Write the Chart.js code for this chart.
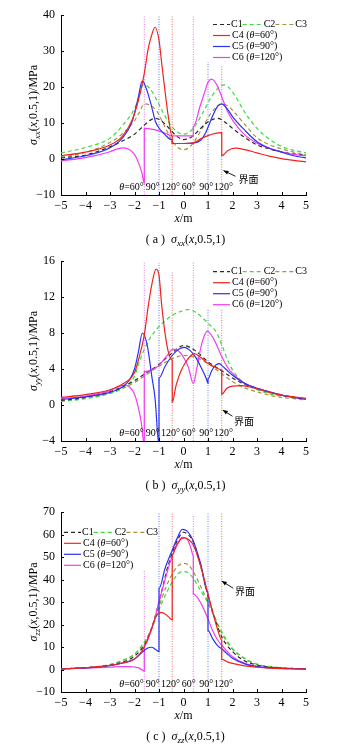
<!DOCTYPE html>
<html>
<head>
<meta charset="utf-8">
<script src="https://cdn.jsdelivr.net/npm/chart.js@4.4.0/dist/chart.umd.min.js"></script>
<style>
  html, body { margin: 0; padding: 0; background: #fff; width: 350px; height: 748px; overflow: hidden; }
  .box { position: absolute; left: 0; width: 350px; height: 250px; }
</style>
</head>
<body>
<div class="box" style="top:0"><canvas id="ca"></canvas></div>
<div class="box" style="top:246px"><canvas id="cb"></canvas></div>
<div class="box" style="top:497px"><canvas id="cc"></canvas></div>
<script>
// interface positions (m) and the theta labels under them
const interfaceX = [-1.6, -1.0, -0.46, 0.4, 1.0, 1.56];
const interfaceColor = ['#e848e8', '#4a58f2', '#e84848', '#e848e8', '#4a58f2', '#e84848'];
const thetaLabels = ['60°', '90°', '120°', '60°', '90°', '120°'];
const thetaLabelX = [-2.62, -1.54, -0.92, -0.07, 0.64, 1.24];
const seriesNames = ['C1', 'C2', 'C3', 'C4', 'C5', 'C6'];
const seriesTheta = ['', '', '', '60°', '90°', '120°'];
const xRange = [-5, 5, 1];

// (a) sigma_xx
const xxRange = [-10, 40, 10];
const xxIfTop = [40, 40, 39.6, 39.6, 27, 26];
const xxC1 = [[-5,0.3],[-4,1.1],[-3,3.4],[-2.5,5.0],[-2,6.9],[-1.6,9.4],[-1.35,10.8],[-1.15,11.3],[-0.9,10.6],[-0.6,8.6],[-0.3,6.5],[0,5.4],[0.3,6.0],[0.6,7.8],[0.9,9.8],[1.2,11.0],[1.4,11.3],[1.7,10.2],[2,8.5],[2.5,6.0],[3,3.9],[3.5,2.8],[4,2.0],[4.5,1.4],[5,1.0]];
const xxC2 = [[-5,1.7],[-4,3.2],[-3,5.8],[-2.5,9.2],[-2,14.0],[-1.8,17.5],[-1.65,20.6],[-1.4,19.8],[-1.1,16.5],[-0.8,12.5],[-0.5,9.2],[-0.25,7.5],[0,6.9],[0.25,7.5],[0.5,9.5],[0.8,13.0],[1.1,16.8],[1.4,19.6],[1.65,20.6],[1.9,19.5],[2.2,16.5],[2.5,13.0],[3,8.5],[3.5,5.5],[4,3.5],[4.5,2.4],[5,1.7]];
const xxC3 = [[-5,0.5],[-4,1.8],[-3,4.6],[-2.5,7.0],[-2,10.6],[-1.8,13.0],[-1.6,15.3],[-1.4,15.0],[-1.1,13.4],[-0.8,9.5],[-0.5,5.5],[-0.25,3.3],[0,2.6],[0.25,3.3],[0.5,5.5],[0.8,9.0],[1.1,12.5],[1.4,14.8],[1.6,15.3],[1.8,14.8],[2.1,12.8],[2.5,9.6],[3,5.9],[3.5,4.0],[4,2.8],[4.5,1.9],[5,1.2]];
const xxC4 = [[-5,0.9],[-4,1.9],[-3,3.9],[-2.5,6.3],[-2.1,10.8],[-1.85,16.0],[-1.6,23.8],[-1.45,30.3],[-1.3,34.4],[-1.16,36.6],[-1.0,33.0],[-0.89,26.6],[-0.76,19.2],[-0.62,11.8],[-0.46,6.2],[-0.46,4.3],[0,4.3],[0.4,4.5],[0.7,5.6],[1.0,6.5],[1.3,7.1],[1.56,7.3],[1.56,0.9],[1.8,2.3],[2.1,3.0],[2.5,2.6],[3,1.7],[3.5,0.8],[4,0.1],[4.5,-0.4],[5,-0.8]];
const xxC5 = [[-5,-0.2],[-4,0.9],[-3,3.1],[-2.5,5.8],[-2.1,10.3],[-1.85,17.0],[-1.68,21.7],[-1.5,19.2],[-1.3,14.5],[-1.15,10.5],[-1.0,8.6],[-0.75,6.7],[-0.46,5.3],[-0.46,4.3],[0,4.3],[0.4,4.4],[0.7,5.2],[0.9,7.2],[1.0,8.8],[1.18,11.8],[1.39,14.6],[1.56,15.3],[1.8,13.8],[2.0,11.8],[2.5,8.0],[3,4.8],[3.5,3.0],[4,1.9],[4.5,0.9],[5,0.3]];
const xxC6 = [[-5,-0.5],[-4,0.4],[-3,2.0],[-2.7,2.8],[-2.45,3.1],[-2.2,2.6],[-2.0,1.3],[-1.85,-0.8],[-1.7,-3.8],[-1.6,-6.7],[-1.6,8.5],[-1.3,8.3],[-1.0,7.8],[-0.7,7.0],[-0.46,6.4],[0,6.4],[0.4,6.4],[0.4,9.0],[0.67,14.5],[0.87,18.7],[1.0,21.3],[1.15,22.2],[1.36,20.6],[1.56,17.3],[1.77,13.6],[2.0,10.8],[2.5,6.7],[3,4.4],[3.5,3.0],[4,2.0],[4.5,1.3],[5,0.9]];

// (b) sigma_yy
const yyRange = [-4, 16, 4];
const yyIfTop = [16, 15.8, 14.8, 16, 10.7, 10.6];
const yyC1 = [[-5,0.5],[-4,0.85],[-3,1.5],[-2.5,2.0],[-2,2.7],[-1.5,3.6],[-1,4.5],[-0.5,5.7],[0,6.6],[0.5,6.0],[1,4.8],[1.56,3.8],[2,3.0],[2.5,2.3],[3,1.85],[3.5,1.45],[4,1.1],[4.5,0.85],[5,0.7]];
const yyC2 = [[-5,0.4],[-4,0.7],[-3,1.3],[-2.5,1.9],[-2,3.2],[-1.8,4.8],[-1.6,6.2],[-1.3,7.7],[-1,8.7],[-0.5,9.9],[0,10.5],[0.2,10.6],[0.5,10.3],[1,9.1],[1.36,8.0],[1.56,6.7],[1.77,5.2],[2,3.9],[2.5,2.4],[3,1.7],[3.5,1.25],[4,1.0],[4.5,0.8],[5,0.65]];
const yyC3 = [[-5,0.45],[-4,0.75],[-3,1.3],[-2.5,1.8],[-2,2.5],[-1.5,3.4],[-1,4.3],[-0.5,5.1],[0,5.5],[0.5,5.3],[1,4.6],[1.5,3.6],[2,2.6],[2.5,1.9],[3,1.45],[3.5,1.1],[4,0.85],[4.5,0.7],[5,0.55]];
const yyC4 = [[-5,0.85],[-4,1.15],[-3,1.7],[-2.5,2.3],[-2,3.6],[-1.84,5.0],[-1.6,7.8],[-1.45,10.8],[-1.3,13.3],[-1.12,15.1],[-1.0,14.4],[-0.89,11.1],[-0.76,8.1],[-0.62,5.9],[-0.46,5.0],[-0.46,0.3],[-0.3,2.2],[-0.1,3.8],[0.1,4.8],[0.3,5.5],[0.45,5.7],[0.7,5.3],[1.0,4.6],[1.3,4.2],[1.56,3.9],[1.56,1.2],[1.77,1.85],[2.0,2.1],[2.38,2.15],[2.7,2.0],[3,1.8],[3.5,1.4],[4,1.1],[4.5,0.9],[5,0.75]];
const yyC5 = [[-5,0.6],[-4,0.9],[-3,1.4],[-2.5,2.0],[-2.2,2.8],[-2,4.0],[-1.84,5.9],[-1.68,8.0],[-1.5,6.9],[-1.4,5.3],[-1.3,3.3],[-1.16,0.7],[-1.0,-4.5],[-1.0,3.0],[-0.75,4.3],[-0.46,5.5],[-0.2,6.2],[0.05,6.4],[0.25,6.1],[0.5,5.3],[0.75,4.0],[0.92,3.0],[1.0,2.4],[1.0,2.9],[1.15,3.8],[1.3,4.4],[1.45,4.6],[1.56,4.4],[1.8,3.8],[2,3.3],[2.5,2.4],[3,1.85],[3.5,1.45],[4,1.1],[4.5,0.85],[5,0.65]];
const yyC6 = [[-5,0.7],[-4,1.0],[-3,1.6],[-2.7,2.0],[-2.4,2.2],[-2.2,2.0],[-2.0,1.2],[-1.85,-0.2],[-1.72,-2.0],[-1.6,-4.5],[-1.6,3.7],[-1.3,3.9],[-1.0,4.4],[-0.7,5.4],[-0.42,6.2],[-0.2,6.0],[0,5.3],[0.2,4.2],[0.4,2.4],[0.54,4.0],[0.67,5.9],[0.81,7.4],[0.97,8.2],[1.22,7.4],[1.56,5.4],[1.8,4.2],[2,3.5],[2.5,2.4],[3,1.85],[3.5,1.45],[4,1.1],[4.5,0.85],[5,0.65]];

// (c) sigma_zz
const zzRange = [-10, 70, 10];
const zzIfTop = [44, 70, 69.5, 68.7, 69.5, 70];
const zzC1 = [[-5,0.3],[-4,0.7],[-3,1.8],[-2.5,3.2],[-2,5.9],[-1.6,10.9],[-1.3,18.3],[-1,30],[-0.62,46.4],[-0.21,58.3],[0,61],[0.2,59.8],[0.4,56.8],[0.7,46],[1,33],[1.3,22],[1.56,14.5],[2,8],[2.5,3.8],[3,2.0],[3.5,1.1],[4,0.7],[4.5,0.45],[5,0.3]];
const zzC2 = [[-5,0.3],[-4,0.8],[-3,2.2],[-2.5,4.0],[-2,6.8],[-1.6,12.2],[-1.3,18],[-1,26.5],[-0.7,34],[-0.4,40],[-0.2,42.8],[0,43.5],[0.2,43],[0.4,40.5],[0.7,35],[1,29.5],[1.3,22.5],[1.56,16.8],[2,9.4],[2.5,5.0],[3,2.4],[3.5,1.3],[4,0.75],[4.5,0.45],[5,0.3]];
const zzC3 = [[-5,0.3],[-4,0.8],[-3,2.2],[-2.5,4.0],[-2,6.8],[-1.6,12],[-1.3,18.5],[-1,28],[-0.7,37],[-0.4,43.5],[-0.2,46.2],[0,47.2],[0.2,46.5],[0.4,43.5],[0.7,37],[1,30],[1.3,22.5],[1.56,16.2],[2,9],[2.5,4.7],[3,2.3],[3.5,1.3],[4,0.75],[4.5,0.45],[5,0.3]];
const zzC4 = [[-5,0.3],[-4,0.8],[-3,1.8],[-2.5,2.9],[-2,4.6],[-1.6,10.0],[-1.3,18.3],[-1.1,24.0],[-0.89,25.4],[-0.62,23.5],[-0.46,22.0],[-0.46,51],[-0.3,55],[-0.1,58],[0.05,58.5],[0.2,57.8],[0.4,55.3],[0.7,46],[1,33.5],[1.36,19],[1.56,13.1],[1.56,4.5],[1.8,3.4],[2,2.7],[2.5,1.6],[3,1.0],[3.5,0.6],[4,0.4],[4.5,0.3],[5,0.2]];
const zzC5 = [[-5,0.3],[-4,0.7],[-3,1.7],[-2.5,2.8],[-2,4.7],[-1.7,7.5],[-1.5,9.3],[-1.3,9.9],[-1.15,9.0],[-1.0,7.9],[-1.0,36],[-0.75,45],[-0.46,53],[-0.25,58.5],[-0.05,62.3],[0.15,61.5],[0.4,57],[0.7,47],[1.0,34],[1.0,17.3],[1.2,13.5],[1.4,10.5],[1.56,9.2],[1.8,6.8],[2,5.0],[2.5,2.5],[3,1.3],[3.5,0.8],[4,0.5],[4.5,0.35],[5,0.3]];
const zzC6 = [[-5,0.3],[-4,0.6],[-3,1.0],[-2.5,1.3],[-2.2,1.3],[-2,1.1],[-1.8,0.6],[-1.6,-0.6],[-1.6,10.8],[-1.3,18],[-1,30],[-0.7,42],[-0.46,50.5],[-0.25,55.5],[-0.05,58.7],[0.15,58],[0.3,54],[0.4,50.5],[0.4,33.5],[0.6,31.5],[0.8,27.5],[1.0,22.5],[1.2,17],[1.4,13],[1.56,10.8],[1.8,7.8],[2,5.7],[2.5,2.8],[3,1.4],[3.5,0.8],[4,0.5],[4.5,0.35],[5,0.3]];

const SERIF = '"Liberation Serif", "Times New Roman", serif';
const CJK = '"Noto Sans CJK SC", sans-serif';

const seriesStyle = [
  { color: '#2a2a2a', dash: [4, 3] },
  { color: '#3bdc3b', dash: [4, 3] },
  { color: '#a69242', dash: [4, 3] },
  { color: '#f0241f', dash: [] },
  { color: '#2a32f4', dash: [] },
  { color: '#f23cf2', dash: [] }
];

const panels = [
  { id: 'ca', letter: 'a', sub: 'xx', range: xxRange, ifTop: xxIfTop, series: [xxC1, xxC2, xxC3, xxC4, xxC5, xxC6],
    legend: { x: 213, dy: 9.5 }, note: { tip: [1.63, -3.2], tail: [2.12, -4.8], text: [2.24, -5.6] } },
  { id: 'cb', letter: 'b', sub: 'yy', range: yyRange, ifTop: yyIfTop, series: [yyC1, yyC2, yyC3, yyC4, yyC5, yyC6],
    legend: { x: 213, dy: 10.7 }, note: { tip: [1.6, -0.56], tail: [2.0, -1.25], text: [2.06, -1.75] } },
  { id: 'cc', letter: 'c', sub: 'zz', range: zzRange, ifTop: zzIfTop, series: [zzC1, zzC2, zzC3, zzC4, zzC5, zzC6],
    legend: { x: 64, dy: 20.3 }, note: { tip: [1.56, 39.3], tail: [2.03, 36.1], text: [2.1, 35] } }
];

function fmt(v){ return v < 0 ? '\u2212' + Math.abs(v) : String(v); }

function fontFor(p, size){
  const s = p.sub ? Math.round(size * 0.72) : size;
  return (p.it ? 'italic ' : '') + s + 'px ' + (p.cjk ? CJK : SERIF);
}

function drawRich(ctx, parts, x, y, size, align){
  let w = 0;
  parts.forEach(p => { ctx.font = fontFor(p, size); w += ctx.measureText(p.t).width; });
  let cx = align === 'center' ? x - w / 2 : x;
  ctx.textAlign = 'left';
  ctx.textBaseline = 'middle';
  parts.forEach(p => {
    ctx.font = fontFor(p, size);
    ctx.fillText(p.t, cx, y + (p.sub ? size * 0.3 : 0));
    cx += ctx.measureText(p.t).width;
  });
  return w;
}

function sigma(sub, tail){
  return [{ t: 'σ', it: true }, { t: sub, it: true, sub: true }, { t: '(' }, { t: 'x', it: true }, { t: ',0.5,1)' + tail }];
}

function strokeLine(ctx, x1, y1, x2, y2, color, dash, width){
  ctx.save();
  ctx.strokeStyle = color;
  ctx.lineWidth = width || 1.2;
  ctx.setLineDash(dash || []);
  ctx.beginPath(); ctx.moveTo(x1, y1); ctx.lineTo(x2, y2); ctx.stroke();
  ctx.restore();
}

function decor(p){
  return {
    id: 'decor_' + p.letter,
    afterDraw(chart){
      const { ctx, chartArea: a, scales: { x, y } } = chart;
      ctx.save();
      // ticks point inwards
      x.ticks.forEach(t => {
        const px = Math.round(x.getPixelForValue(t.value)) + 0.5;
        strokeLine(ctx, px, a.bottom, px, a.bottom - 3, '#000', [], 1);
      });
      y.ticks.forEach(t => {
        const py = Math.round(y.getPixelForValue(t.value)) + 0.5;
        strokeLine(ctx, a.left, py, a.left + 3, py, '#000', [], 1);
      });
      ctx.fillStyle = '#000';
      // axis titles and caption
      ctx.save();
      ctx.translate(34, (a.top + a.bottom) / 2);
      ctx.rotate(-Math.PI / 2);
      drawRich(ctx, sigma(p.sub, '/MPa'), 0, 0, 12, 'center');
      ctx.restore();
      const cxm = (a.left + a.right) / 2;
      drawRich(ctx, [{ t: 'x', it: true }, { t: '/m' }], cxm, a.bottom + 24, 12, 'center');
      drawRich(ctx, [{ t: '( ' + p.letter + ' )  ' }].concat(sigma(p.sub, '')), cxm + 2, a.bottom + 45, 12, 'center');
      // theta labels
      thetaLabels.forEach((s, i) => {
        const parts = i === 0 ? [{ t: 'θ', it: true }, { t: '=' + s }] : [{ t: s }];
        drawRich(ctx, parts, x.getPixelForValue(thetaLabelX[i]), a.bottom - 8, 10, 'left');
      });
      // interface note with arrow
      const n = p.note;
      const tx = x.getPixelForValue(n.tip[0]), ty = y.getPixelForValue(n.tip[1]);
      const bx = x.getPixelForValue(n.tail[0]), by = y.getPixelForValue(n.tail[1]);
      strokeLine(ctx, bx, by, tx, ty, '#000', [], 0.9);
      const ang = Math.atan2(ty - by, tx - bx);
      ctx.beginPath();
      ctx.moveTo(tx, ty);
      ctx.lineTo(tx - 5 * Math.cos(ang) + 2 * Math.sin(ang), ty - 5 * Math.sin(ang) - 2 * Math.cos(ang));
      ctx.lineTo(tx - 5 * Math.cos(ang) - 2 * Math.sin(ang), ty - 5 * Math.sin(ang) + 2 * Math.cos(ang));
      ctx.closePath();
      ctx.fill();
      drawRich(ctx, [{ t: '界面', cjk: true }], x.getPixelForValue(n.text[0]), y.getPixelForValue(n.text[1]), 10, 'left');
      // legend
      const L = p.legend;
      let ly = a.top + L.dy, lx = L.x;
      const sampleW = [17, 20, 19];
      for (let i = 0; i < 3; i++){
        strokeLine(ctx, lx, ly, lx + sampleW[i], ly, seriesStyle[i].color, seriesStyle[i].dash);
        lx += sampleW[i] + 1;
        lx += drawRich(ctx, [{ t: seriesNames[i] }], lx, ly, 10, 'left');
      }
      for (let i = 3; i < 6; i++){
        ly += 11;
        strokeLine(ctx, L.x, ly, L.x + 17, ly, seriesStyle[i].color, seriesStyle[i].dash);
        drawRich(ctx, [{ t: seriesNames[i] + ' (' }, { t: 'θ', it: true }, { t: '=' + seriesTheta[i] + ')' }], L.x + 19, ly, 10, 'left');
      }
      ctx.restore();
    }
  };
}

function buildChart(p){
  const datasets = [];
  // solid curves on top, dashed under them, interfaces at the bottom
  [3, 4, 5, 0, 1, 2].forEach(i => {
    datasets.push({
      label: seriesNames[i],
      data: p.series[i].map(([x, y]) => ({ x, y })),
      borderColor: seriesStyle[i].color,
      borderWidth: 1.2,
      borderDash: seriesStyle[i].dash,
      pointRadius: 0,
      cubicInterpolationMode: 'monotone',
      fill: false
    });
  });
  interfaceX.forEach((x, i) => {
    datasets.push({
      label: 'if' + i,
      data: [{ x, y: p.range[0] }, { x, y: p.ifTop[i] }],
      borderColor: interfaceColor[i],
      borderWidth: 0.8,
      borderDash: [1, 1.5],
      pointRadius: 0,
      fill: false
    });
  });

  const tickFont = { family: SERIF, size: 12 };
  new Chart(document.getElementById(p.id), {
    type: 'line',
    data: { datasets },
    options: {
      responsive: true,
      maintainAspectRatio: false,
      animation: false,
      layout: { padding: { left: 0, right: 44, top: 15, bottom: 0 } },
      plugins: { legend: { display: false }, tooltip: { enabled: false } },
      scales: {
        x: {
          type: 'linear', min: xRange[0], max: xRange[1],
          afterFit: s => { s.height = 55; },
          grid: { display: false, drawTicks: false },
          border: { color: '#000', width: 1 },
          ticks: { stepSize: xRange[2], padding: 4, color: '#000', font: tickFont, callback: fmt, maxRotation: 0, autoSkip: false }
        },
        y: {
          type: 'linear', min: p.range[0], max: p.range[1],
          afterFit: s => { s.width = 61; },
          grid: { display: false, drawTicks: false },
          border: { color: '#000', width: 1 },
          ticks: { stepSize: p.range[2], padding: 6, color: '#000', font: tickFont, callback: fmt }
        }
      }
    },
    plugins: [decor(p)]
  });
}

panels.forEach(buildChart);
</script>
</body>
</html>
